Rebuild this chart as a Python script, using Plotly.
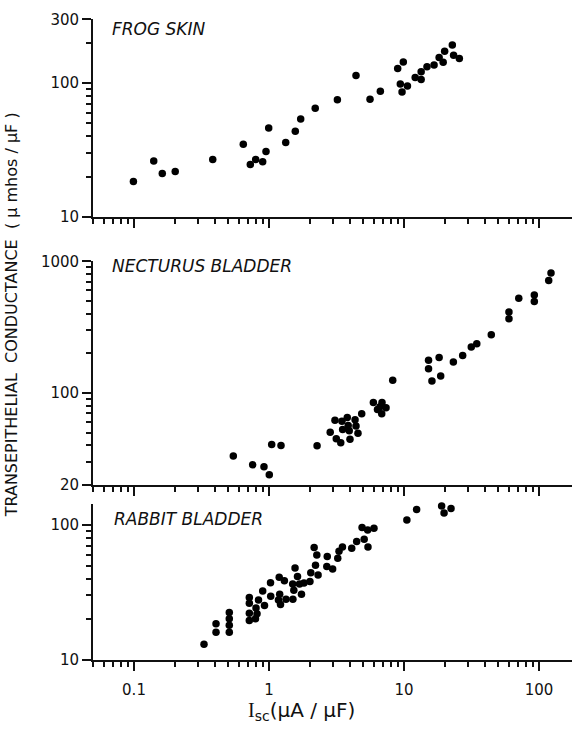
import plotly.graph_objects as go

# Short-circuit current (uA/uF) and transepithelial conductance (umhos/uF)
frog_isc = [0.099, 0.140, 0.162, 0.202, 0.383, 0.645, 0.727, 0.797, 0.898, 0.95,
            0.995, 1.33, 1.566, 1.717, 2.20, 3.21, 4.41, 5.60, 6.68, 8.98,
            9.88, 9.39, 9.67, 10.6, 12.1, 13.4, 13.4, 14.8, 16.7, 18.2,
            19.5, 20.0, 22.8, 23.3, 25.7]
frog_g = [18.4, 26.1, 21.1, 21.8, 26.8, 34.9, 24.6, 26.8, 25.8, 30.8,
          46.2, 35.9, 43.7, 54.0, 64.9, 75.1, 113.8, 75.6, 87.0, 128.6,
          144.0, 98.3, 85.9, 95.1, 110.0, 121.8, 106.4, 132.4, 136.9, 155.6,
          143.0, 173.2, 192.6, 161.8, 153.0]

nect_isc = [0.544, 0.757, 0.918, 1.005, 1.047, 1.227, 2.27, 2.84, 3.08, 3.15,
            3.40, 3.47, 3.51, 3.80, 3.86, 3.98, 3.93, 4.34, 4.41, 4.56,
            4.86, 5.93, 6.87, 6.64, 7.36, 6.84, 6.36, 8.25, 15.2, 15.2,
            16.1, 18.2, 18.7, 23.2, 27.2, 31.5, 34.6, 44.3, 59.9, 59.9,
            70.8, 92.3, 92.3, 118.0, 122.7]
nect_g = [33.2, 28.5, 27.5, 23.9, 40.7, 39.9, 39.8, 50.3, 62.1, 45.0,
          41.9, 61.0, 52.7, 65.0, 56.6, 44.5, 51.6, 62.5, 56.2, 49.4,
          69.5, 84.8, 84.8, 78.7, 77.4, 69.5, 74.8, 124.8, 177.0, 152.6,
          123.3, 185.7, 134.8, 171.8, 192.2, 223.0, 236.0, 276.7, 412.0, 365.6,
          523.8, 554.9, 494.5, 714.3, 815.0]

rabbit_isc = [0.330, 0.405, 0.405, 0.508, 0.508, 0.508, 0.508, 0.715, 0.715, 0.715,
              0.715, 0.801, 0.815, 0.794, 0.836, 0.898, 0.926, 1.026, 1.03, 1.19,
              1.20, 1.175, 1.217, 1.30, 1.336, 1.559, 1.626, 1.498, 1.527, 1.503,
              1.74, 1.683, 1.816, 2.01, 2.04, 2.16, 2.26, 2.21, 2.31, 2.70,
              2.68, 2.96, 3.23, 3.30, 3.50, 4.10, 4.46, 4.89, 5.07, 5.41,
              5.38, 5.99, 10.5, 12.4, 19.0, 19.8, 22.3]
rabbit_g = [13.0, 18.5, 16.0, 22.4, 20.1, 18.0, 16.0, 28.9, 26.2, 22.1,
            19.5, 24.2, 21.9, 20.1, 27.7, 32.4, 25.2, 37.3, 29.6, 40.9,
            30.6, 27.7, 25.7, 38.5, 28.1, 48.0, 41.5, 36.5, 32.7, 28.1,
            30.6, 36.5, 37.1, 38.0, 44.2, 68.1, 59.9, 50.2, 42.6, 58.4,
            49.2, 47.2, 56.7, 63.7, 68.5, 67.3, 75.5, 95.9, 78.2, 68.5,
            91.7, 94.6, 108.7, 130.1, 138.4, 122.7, 132.8]

panel_names = ["FROG SKIN", "NECTURUS BLADDER", "RABBIT BLADDER"]
x_ticks = [0.1, 1, 10, 100]
x_tick_text = ["0.1", "1", "10", "100"]
y_ticks = [[10, 100, 300], [20, 100, 1000], [10, 100]]
y_tick_text = [["10", "100", "300"], ["20", "100", "1000"], ["10", "100"]]

W, H = 572, 734
INK = "#111111"
FONT = "DejaVu Sans"


def fy(px):
    """Pixel row (from top) to paper fraction."""
    return (H - px) / H


def fx(px):
    return px / W


x_dom = [fx(93), 1.0]
x_rng = [-1.3037, 2.2444]
# (bottom px, top px) of each panel and the log10 y-range shown in it
panel_px = [(213, 10.6), (488, 258.6), (667, 507)]
y_rngs = [[1.0, 2.4771], [1.30103, 3.0], [1.0, 2.159]]

# short minor ticks at 2..9 within every decade
minor_ticks = dict(ticks="outside", ticklen=5, tickwidth=1.5, tickcolor=INK,
                   dtick="D1", showgrid=False)

fig = go.Figure()
series = [(frog_isc, frog_g), (nect_isc, nect_g), (rabbit_isc, rabbit_g)]
for i, (xs, ys) in enumerate(series):
    sfx = "" if i == 0 else str(i + 1)
    fig.add_trace(go.Scatter(
        x=xs, y=ys, mode="markers", cliponaxis=False,
        marker=dict(size=7.5, color="#000000", line=dict(width=0)),
        xaxis="x" + sfx, yaxis="y" + sfx, showlegend=False,
        hoverinfo="skip"))

layout = dict(
    width=W, height=H, margin=dict(l=0, r=0, t=0, b=0),
    paper_bgcolor="white", plot_bgcolor="white",
    font=dict(family=FONT, color=INK, size=15),
)
for i in range(3):
    sfx = "" if i == 0 else str(i + 1)
    bottom, top = panel_px[i]
    last = i == 2
    layout["xaxis" + sfx] = dict(
        type="log", range=x_rng, domain=x_dom, anchor="y" + sfx,
        showgrid=False, zeroline=False, showline=True, linecolor=INK, linewidth=1.8,
        ticks="outside", ticklen=9, tickwidth=1.8, tickcolor=INK,
        tickvals=x_ticks, ticktext=x_tick_text, showticklabels=last,
        ticklabelstandoff=6,
        tickfont=dict(size=15, color=INK, family=FONT),
        minor=minor_ticks,
    )
    layout["yaxis" + sfx] = dict(
        type="log", range=y_rngs[i], domain=[fy(bottom), fy(top)],
        anchor="x" + sfx,
        showgrid=False, zeroline=False, showline=True, linecolor=INK, linewidth=1.8,
        ticks="outside", ticklen=9, tickwidth=1.8, tickcolor=INK,
        tickvals=y_ticks[i], ticktext=y_tick_text[i],
        tickfont=dict(size=15, color=INK, family=FONT),
        minor=minor_ticks,
    )

fig.update_layout(**layout)

label_pos = [(110, 20), (110, 263), (112, 523)]
for name, (lx, ly) in zip(panel_names, label_pos):
    fig.add_annotation(
        text=name, x=fx(lx), y=fy(ly), xref="paper", yref="paper",
        xanchor="left", yanchor="middle", showarrow=False,
        font=dict(family=FONT, size=17, color=INK, style="italic"))

nb = "\u00a0"
y_title = ("TRANSEPITHELIAL" + nb * 2 + "CONDUCTANCE" + nb * 2
           + "(" + nb + "\u03bc" + nb + "mhos" + nb + "/" + nb + "\u03bcF" + nb + ")")
fig.add_annotation(
    text=y_title, x=fx(11), y=fy(314), xref="paper", yref="paper",
    textangle=-90, showarrow=False, xanchor="center", yanchor="middle",
    font=dict(family=FONT, size=16, color=INK))

x_title = ("<span style=\"font-family:Liberation Serif\">I</span>"
           "<sub>sc</sub>(\u03bcA" + nb + "/" + nb + "\u03bcF)")
fig.add_annotation(
    text=x_title, x=fx(301), y=fy(720), xref="paper", yref="paper",
    showarrow=False, xanchor="center", yanchor="middle",
    font=dict(family=FONT, size=20, color=INK))

fig.write_html("out.html")
